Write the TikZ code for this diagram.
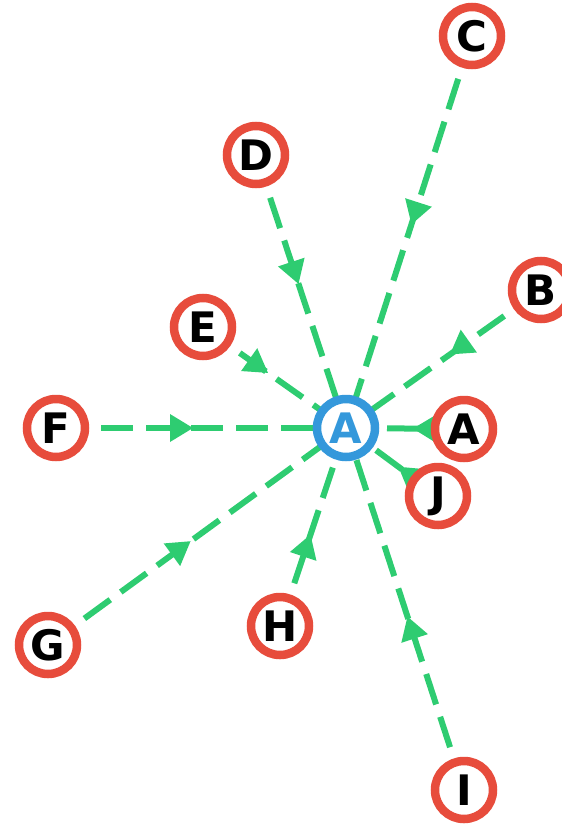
\documentclass[tikz,border=0pt]{standalone}
\usepackage{fontspec}
\setmainfont{DejaVu Sans}
\usepackage{xcolor}
\usetikzlibrary{decorations.markings,backgrounds}
\definecolor{nodered}{HTML}{E74C3C}
\definecolor{hubblue}{HTML}{3498DB}
\definecolor{edgegreen}{HTML}{2ECC71}

\begin{document}
\begin{tikzpicture}[
  x=1pt,y=-1pt,
  font=\fontsize{42}{50}\selectfont\bfseries,
  leaf/.style={circle,draw=nodered,line width=8.5pt,fill=white,minimum size=58pt,inner sep=0pt},
  hub/.style={leaf,draw=hubblue,text=hubblue},
  ed/.style={draw=edgegreen,line width=6pt,dash pattern=on 32pt off 13pt,
    postaction={decorate,decoration={markings,
      mark=at position 0.5 with {\fill[edgegreen] (-8,0) -- (-31,14) -- (-31,-14) -- cycle;}}}}
]
\useasboundingbox (0,0) rectangle (562,825);

\node[hub] (a) at (346,428) {A};

\node[leaf] (c) at (472,36) {C};
\node[leaf] (d) at (256,155) {D};
\node[leaf] (b) at (541,290) {B};
\node[leaf] (e) at (203,327) {E};
\node[leaf] (f) at (56,428) {F};
\node[leaf] (a2) at (464,429) {A};
\node[leaf] (j) at (438,496) {J};
\node[leaf] (g) at (48,645) {G};
\node[leaf] (h) at (280,626) {H};
\node[leaf] (i) at (464,790) {I};

% every edge points into the hub
\begin{scope}[on background layer]
\foreach \s in {c,d,b,e,f,a2,j,g,h,i}
  \draw[ed] (\s.center) -- (a.center);
\end{scope}
\end{tikzpicture}
\end{document}
